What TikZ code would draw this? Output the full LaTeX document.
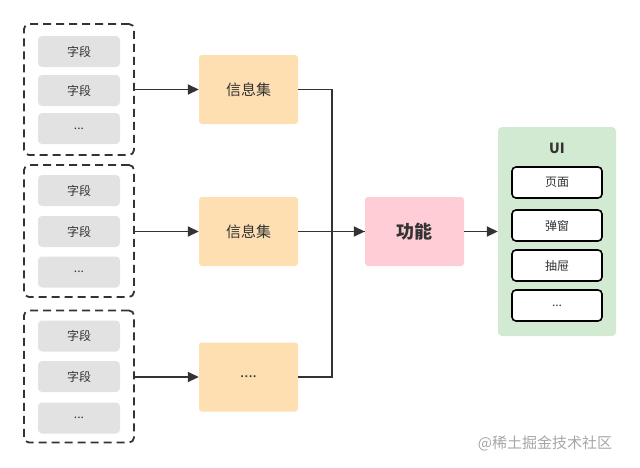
\documentclass[tikz,border=0pt]{standalone}
\usepackage{fontspec}
\setmainfont{Noto Sans CJK SC}
\usetikzlibrary{arrows.meta}

\definecolor{fieldgray}{HTML}{E2E2E2}
\definecolor{infoorange}{HTML}{FDDFB2}
\definecolor{funcpink}{HTML}{FFCDD5}
\definecolor{uigreen}{HTML}{D3EAD2}
\definecolor{linedark}{HTML}{333333}

\begin{document}
\begin{tikzpicture}[x=1pt,y=-1pt,
    group/.style={draw=linedark,line width=1.8pt,dash pattern=on 8pt off 5pt,rounded corners=5pt,minimum width=110pt},
    field/.style={fill=fieldgray,rounded corners=4pt,minimum width=82pt,minimum height=31pt,font=\fontsize{12}{14}\selectfont,text=linedark},
    info/.style={fill=infoorange,rounded corners=3pt,minimum width=99pt,minimum height=69pt,font=\fontsize{15}{17}\selectfont,text=linedark},
    uiitem/.style={draw=black,fill=white,line width=1.6pt,rounded corners=4pt,minimum width=90pt,minimum height=31pt,font=\fontsize{12}{14}\selectfont,text=linedark},
    link/.style={draw=linedark,line width=1.8pt},
    arr/.style={link,-{Triangle[length=11pt,width=10pt]}}]
  \useasboundingbox (0,0) rectangle (640,467);

  % field groups
  \node[group,minimum height=131pt] (grp1) at (79,89.5) {};
  \node[group,minimum height=132pt] (grp2) at (79,231) {};
  \node[group,minimum height=132pt] (grp3) at (79,376.5) {};
  \node[field] (f11) at (79,51.5) {字段};
  \node[field] (f12) at (79,90.5) {字段};
  \node[field] (f13) at (79,128.5) {...};
  \node[field] (f21) at (79,190.5) {字段};
  \node[field] (f22) at (79,231.5) {字段};
  \node[field] (f23) at (79,272) {...};
  \node[field] (f31) at (79,336) {字段};
  \node[field] (f32) at (79,376.5) {字段};
  \node[field] (f33) at (79,418) {...};

  % info sets
  \node[info] (info1) at (248.5,89.5) {信息集};
  \node[info] (info2) at (248.5,231.5) {信息集};
  \node[info] (info3) at (248.5,377) {....};

  % function and ui
  \node[fill=funcpink,rounded corners=3pt,minimum width=99pt,minimum height=69pt,
    font=\fontsize{18}{20}\selectfont\bfseries,text=linedark] (func) at (414.5,231.5) {功能};
  \node[fill=uigreen,rounded corners=4pt,minimum width=118pt,minimum height=209pt] (ui) at (557,231.5) {};
  \node[font=\fontsize{14}{16}\selectfont\bfseries,text=linedark] (uilabel) at (557,148) {UI};
  \node[uiitem] (page) at (557,182.5) {页面};
  \node[uiitem] (popup) at (557,225.5) {弹窗};
  \node[uiitem] (drawer) at (557,265.5) {抽屉};
  \node[uiitem] (more) at (557,305.5) {...};

  % connectors
  \draw[arr] (grp1.east |- info1.west) -- (info1.west);
  \draw[arr] (grp2.east |- info2.west) -- (info2.west);
  \draw[arr] (grp3.east |- info3.west) -- (info3.west);
  \draw[link] (info1.east) -- ++(34,0) |- (func.west);
  \draw[link] (info3.east) -- ++(34,0) |- (func.west);
  \draw[arr] (info2.east) -- (func.west);
  \draw[arr] (func.east) -- (ui.west);

  \node[text=black!35,font=\fontsize{15}{17}\selectfont] (mark) at (545,443) {@稀土掘金技术社区};
\end{tikzpicture}
\end{document}
